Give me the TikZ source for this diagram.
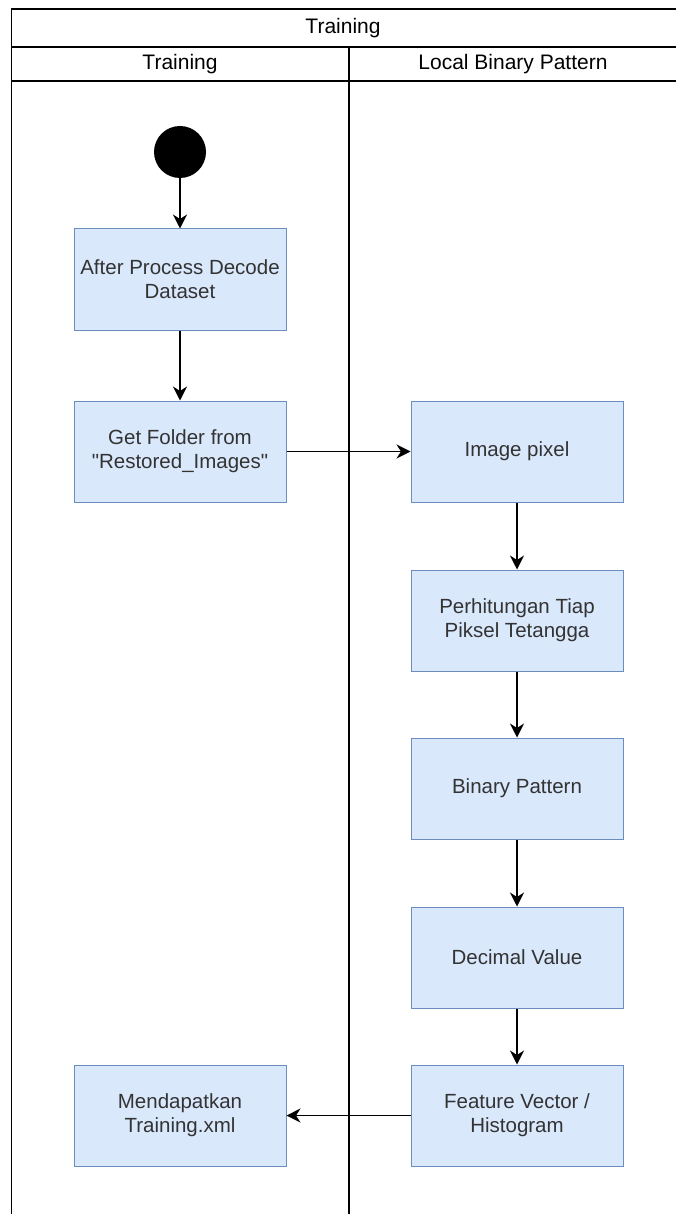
\documentclass[tikz,border=0pt]{standalone}
\usepackage{fontspec}
\setmainfont{Liberation Sans}[Ligatures=TeXOff]
\usetikzlibrary{arrows.meta}
\definecolor{boxfill}{HTML}{DAE8FC}
\definecolor{boxline}{HTML}{6C8EBF}
\definecolor{boxtext}{HTML}{333333}
\tikzset{
  act/.style={draw=boxline, fill=boxfill, line width=1pt,
    minimum width=212pt, minimum height=101pt, inner sep=0pt,
    align=center, text=boxtext,
    font=\fontsize{20.5}{24}\selectfont},
  lane/.style={draw=black, line width=1.4pt},
  head/.style={font=\fontsize{21}{25}\selectfont, text=black},
  flow/.style={-{Stealth[length=14pt,width=14pt,inset=4.5pt]}, line width=1.4pt, draw=black},
}
\begin{document}
\begin{tikzpicture}[x=1pt,y=-1pt]
\useasboundingbox (0,0) rectangle (676,1214);
\begin{scope}
\clip (0,0) rectangle (676,1214);
% pool frame, header rows and lane divider
\draw[lane] (690,9) -- (11.5,9) -- (11.5,1230);
\draw[lane] (11.5,47) -- (690,47);
\draw[lane] (11.5,81) -- (690,81);
\draw[lane] (349,47) -- (349,1230);
\end{scope}
\node[head] (pool) at (343,28) {Training};
\node[head] (laneA) at (180,64) {Training};
\node[head] (laneB) at (513,64) {Local Binary Pattern};

% left lane
\node[circle, fill=black, minimum size=52pt, inner sep=0pt] (start) at (180,152) {};
\node[act] (decode) at (180,279.5) {After Process Decode\\Dataset};
\node[act] (folder) at (180,451.5) {Get Folder from\\"Restored\_Images"};
\node[act] (xml) at (180,1115.5) {Mendapatkan\\Training.xml};

% right lane
\node[act] (pixel) at (517,451.5) {Image pixel};
\node[act] (hitung) at (517,620.5) {Perhitungan Tiap\\Piksel Tetangga};
\node[act] (binary) at (517,788.5) {Binary Pattern};
\node[act] (decimal) at (517,957.5) {Decimal Value};
\node[act] (feature) at (517,1115.5) {Feature Vector /\\Histogram};

% control flow
\draw[flow] (start) -- (decode);
\draw[flow] (decode) -- (folder);
\draw[flow] (folder) -- (pixel);
\draw[flow] (pixel) -- (hitung);
\draw[flow] (hitung) -- (binary);
\draw[flow] (binary) -- (decimal);
\draw[flow] (decimal) -- (feature);
\draw[flow] (feature) -- (xml);
\end{tikzpicture}
\end{document}
